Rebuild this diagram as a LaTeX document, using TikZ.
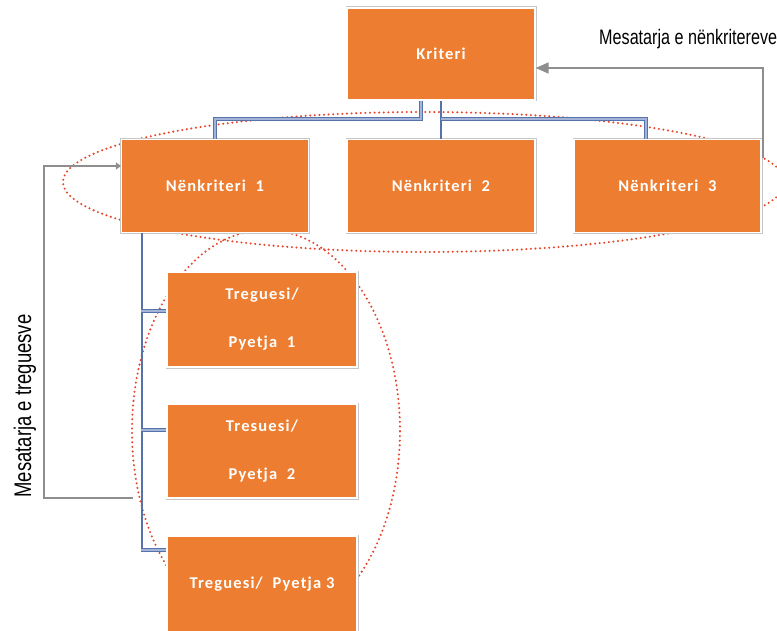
\documentclass[tikz,border=0pt]{standalone}
\usepackage{fontspec}
\setmainfont{Liberation Sans}
\newfontfamily\boxfont[LetterSpace=7]{Carlito}
\newfontfamily\notefont{Liberation Sans}
\usetikzlibrary{arrows.meta,calc}
\definecolor{boxorange}{HTML}{ED7D31}
\definecolor{bluedark}{HTML}{5573AA}
\definecolor{bluelight}{HTML}{A3B4D8}
\definecolor{arrowgray}{HTML}{8E8E8E}
\definecolor{dotred}{HTML}{E8452C}
\tikzset{
  orgbox/.style={rectangle, fill=boxorange, draw=white, line width=1.2bp,
    preaction={draw=black!22, line width=3bp},
    text=white, font=\boxfont\bfseries\fontsize{16.5bp}{20bp}\selectfont,
    align=center, inner sep=0pt},
  thickblue/.style={draw=bluedark, line width=4bp, postaction={draw=bluelight, line width=2bp}},
  thinblue/.style={draw=bluedark, line width=2.2bp},
  grayarrow/.style={draw=arrowgray, line width=1.6bp},
  redring/.style={draw=dotred, line width=2.3bp, line cap=round, dash pattern=on 0bp off 4.6bp},
  notetext/.style={font=\notefont\fontsize{21bp}{24bp}\selectfont, inner sep=0pt}
}
\begin{document}
\begin{tikzpicture}[x=1bp,y=-1bp]
\useasboundingbox (0,0) rectangle (777,631);
% red dotted rings
\draw[redring] (424,182) ellipse [x radius=361bp, y radius=70bp];
\draw[redring] (266,431) ellipse [x radius=134bp, y radius=201bp];
% boxes
\node[orgbox, minimum width=188bp, minimum height=92bp] (K) at (441,54) {Kriteri};
\node[orgbox, minimum width=187bp, minimum height=93bp] (N1) at (215,186) {Nënkriteri\ \ 1};
\node[orgbox, minimum width=188bp, minimum height=93bp] (N2) at (441,186) {Nënkriteri\ \ 2};
\node[orgbox, minimum width=187bp, minimum height=93bp] (N3) at (667.5,186) {Nënkriteri\ \ 3};
\node[orgbox, minimum width=190bp, minimum height=95bp] (T1) at (262,319.5) {Treguesi/\\[28bp]Pyetja\ \ 1};
\node[orgbox, minimum width=190bp, minimum height=94bp] (T2) at (262,451) {Tresuesi/\\[28bp]Pyetja\ \ 2};
\node[orgbox, minimum width=190bp, minimum height=96bp] (T3) at (262,584) {Treguesi/\ \ Pyetja\ 3};
% tree lines
\draw[thickblue] ([xshift=-20bp]K.south) -- ++(0,18) -| (N1.north);
\draw[thinblue] (K.south) -- (N2.north);
\draw[thickblue] ([yshift=-18bp]K.south) -| ([xshift=-22bp]N3.north);
\draw[thinblue] ([xshift=-73bp]N1.south) |- ([yshift=34bp]T3.west);
\draw[thickblue] ([yshift=8.5bp]T1.west) -- ++(-25,0);
\draw[thickblue] ([yshift=21bp]T2.west) -- ++(-25,0);
\draw[thickblue] ([yshift=34bp]T3.west) -- ++(-25,0);
% gray feedback arrows
\coordinate (la) at (133,498);
\coordinate (ra) at (763,158);
\draw[grayarrow, -{Triangle[length=5bp,width=7bp]}] (la) -- ++(-89,0) |- ([yshift=20bp]N1.west);
\draw[grayarrow, -{Triangle[length=13bp,width=11bp]}] (ra) |- ([yshift=-14bp]K.east);
% notes
\node[notetext, font=\notefont\fontsize{24bp}{27bp}\selectfont, rotate=90] (nt) at (25,406) {\scalebox{0.77}[1]{Mesatarja e treguesve}};
\node[notetext, anchor=base west] (nk) at (599,45) {\scalebox{0.77}[1]{Mesatarja e nënkritereve}};
\end{tikzpicture}
\end{document}
